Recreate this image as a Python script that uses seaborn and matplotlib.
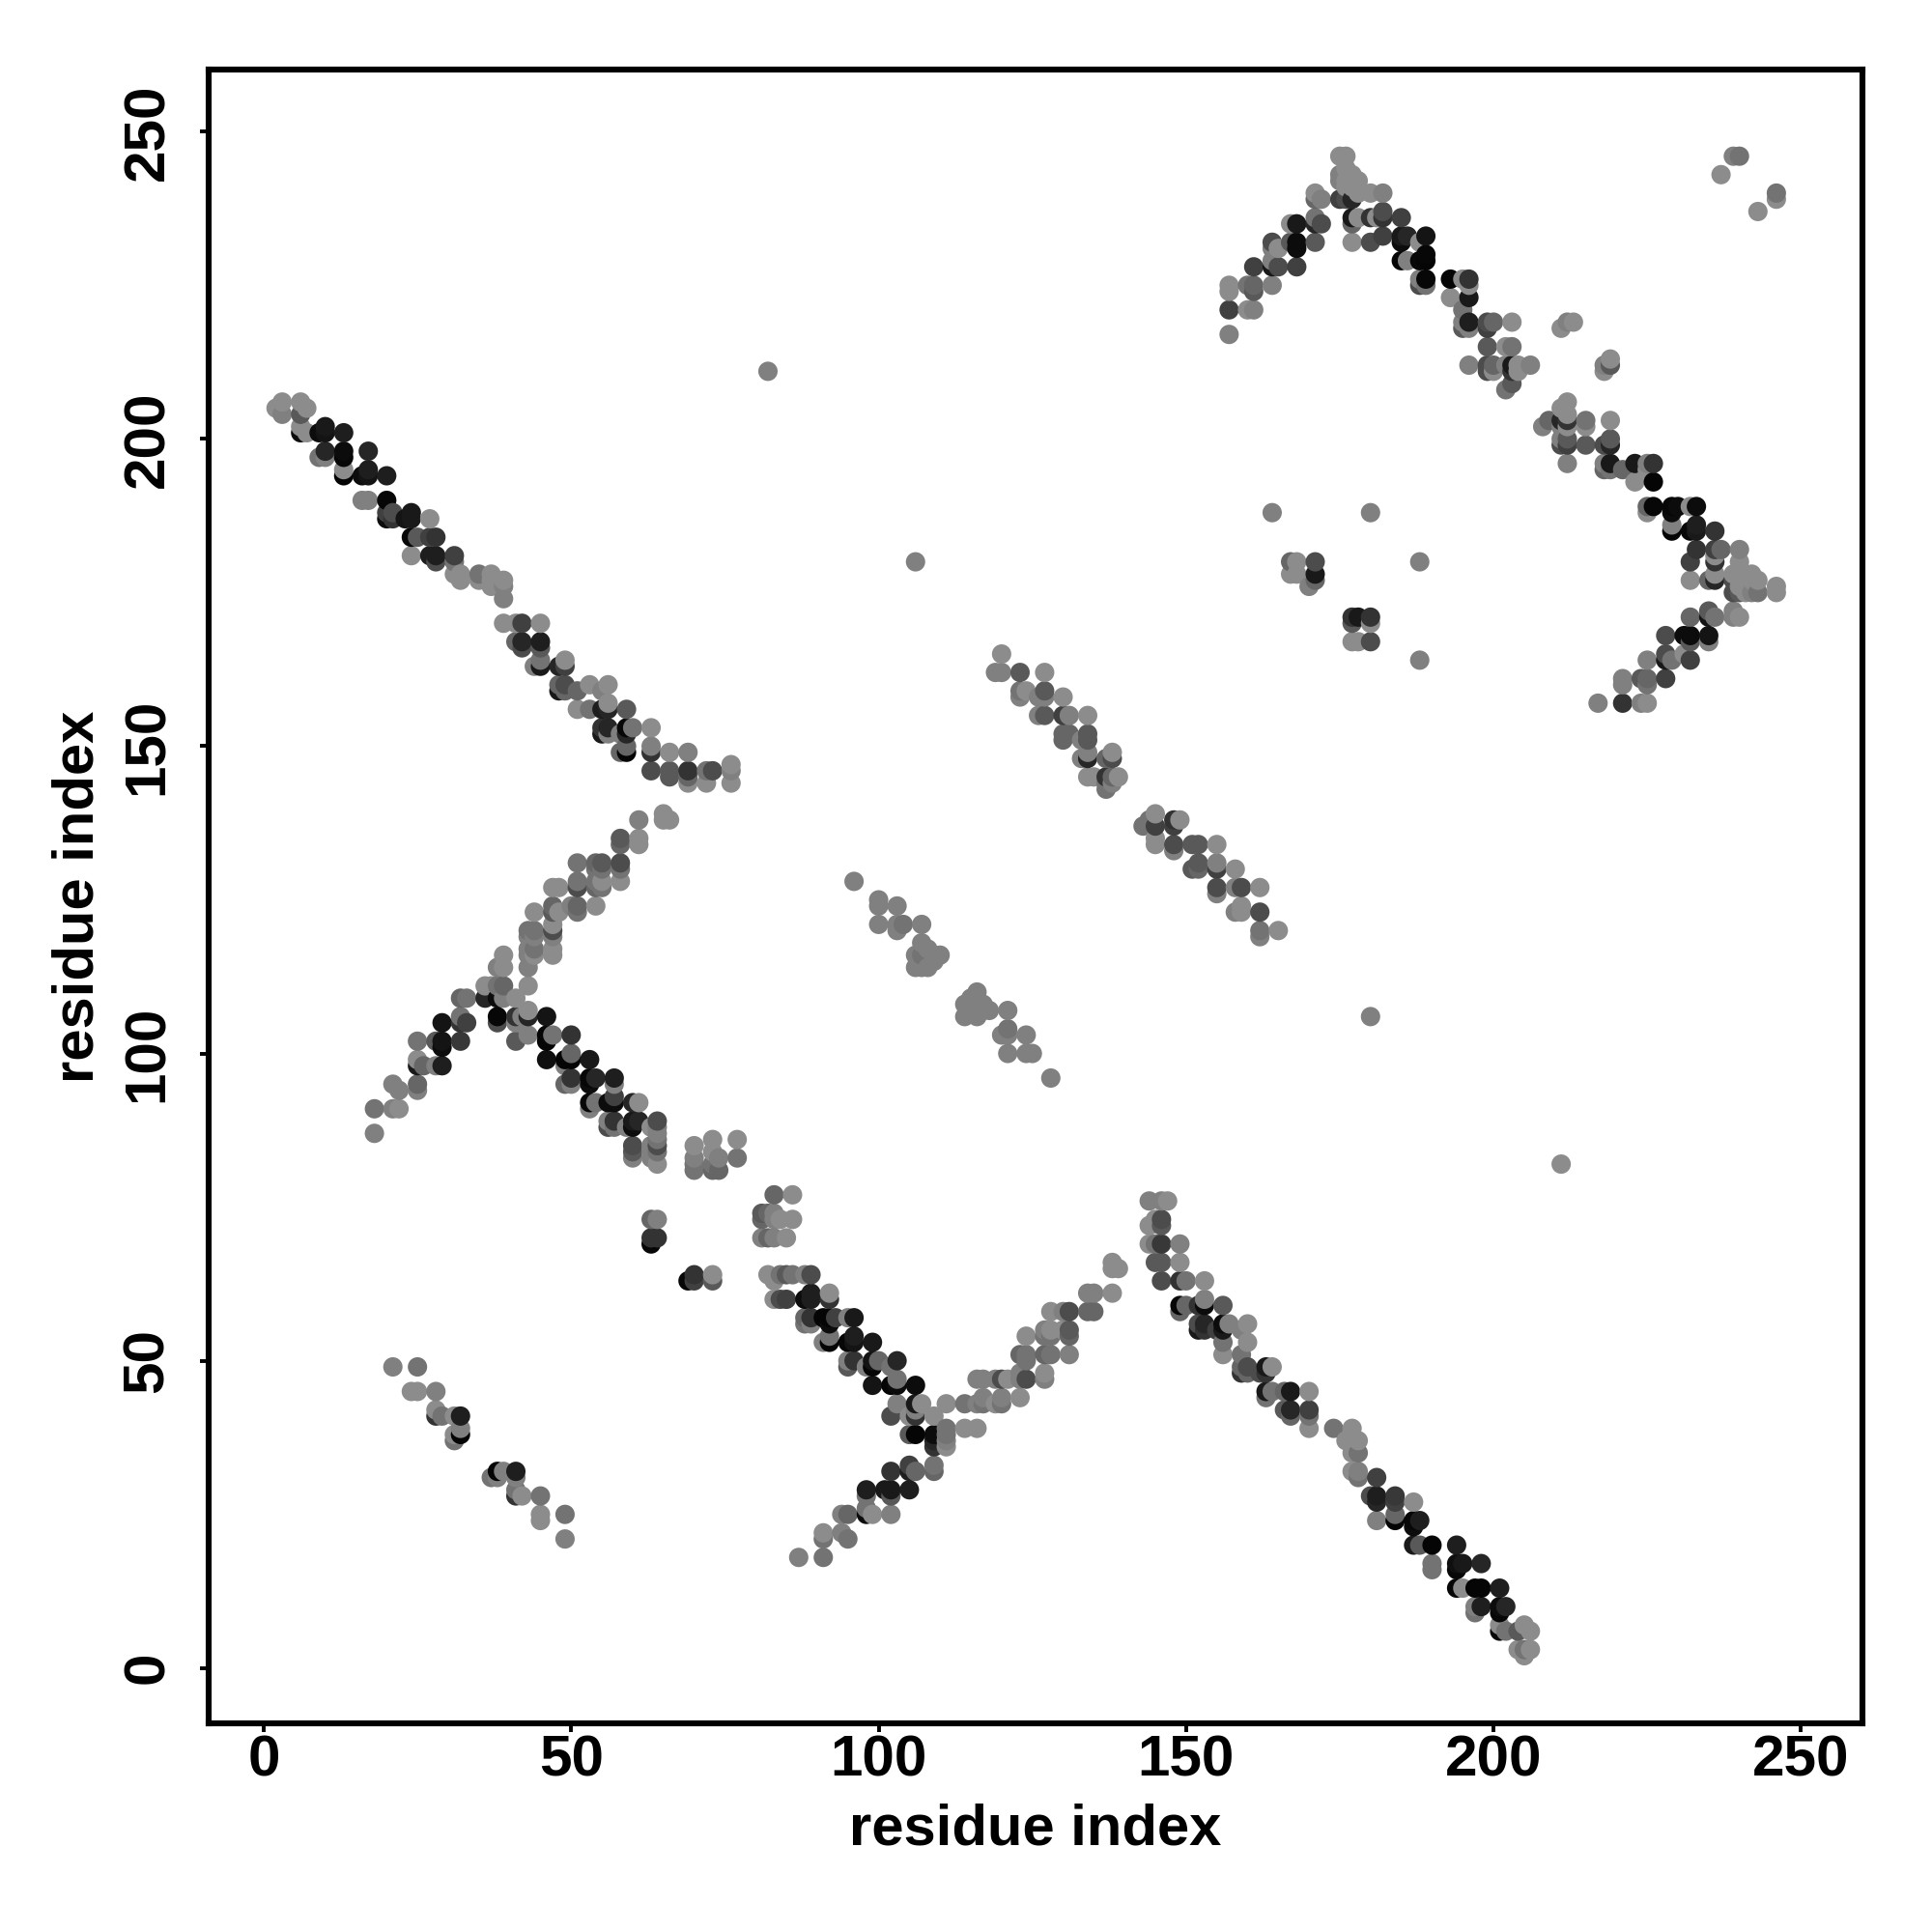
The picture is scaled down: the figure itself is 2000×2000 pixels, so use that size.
#Residue contact map, one dot per contact, darker = stronger
import pandas as pd
import seaborn as sns
import matplotlib
matplotlib.use("Agg")
import matplotlib.pyplot as plt

# (residue i, residue j, shade), shade 0 is black
top_left_arm = [(2,205,.55),(3,206,.55),(3,204,.5),(6,206,.55),(7,205,.55),(6,204,.35),(6,201,.05),(6,202,.55),(7,201,.55),
    (9,201,.05),(10,202,.1),(10,201,.08),(13,201,.12),(9,197,.45),(10,197,.5),(10,198,.15),(13,198,.05),(13,197,.03),(13,195,.55),(13,194,.02),
    (17,198,.15),(16,194,.05),(17,194,.08),(17,195,.12),(20,194,.12),(16,190,.5),(17,190,.5),(20,190,.03),(20,188,.25),(20,187,.05),(21,188,.3),(21,187,.2),
    (23,187,.08),(24,188,.1),(24,187,.1),(27,187,.55),(24,184,.03),(25,184,.35),(27,184,.25),(28,184,.2),(24,181,.55),(27,181,.12),(28,181,.12),(28,180,.3),
    (31,181,.25),(31,180,.45),(31,178,.55),(32,178,.55),(32,177,.55),(35,178,.45),(35,177,.55),(37,178,.55),(37,176,.55),(37,177,.55),(39,177,.55),(39,176,.5),(39,174,.5),
    (39,170,.55),(41,170,.55),(42,170,.25),(45,170,.55),(41,167,.4),(42,167,.15),(42,166,.3),(45,167,.12),(45,166,.35),(44,163,.5),(45,164,.45),(45,163,.1),
    (48,163,.15),(49,164,.55),(49,163,.25),(48,160,.4),(49,160,.3),(48,159,.1),(49,159,.4),(51,159,.4),(53,160,.55),(55,159,.5),(56,160,.55),
    (51,156,.55),(53,156,.45),(55,156,.12),(56,157,.55),(56,156,.15),(59,156,.35),(55,153,.2),(56,153,.15),(55,152,.1),(56,152,.5),(58,152,.5),(59,153,.03),(60,153,.45),(59,152,.15),(63,153,.55),
    (58,149,.4),(59,150,.4),(59,149,.02),(63,150,.5),(63,149,.2),(66,149,.55),(69,149,.5),(63,146,.3),(66,146,.35),(66,145,.35),(69,146,.2),(69,145,.4),(69,144,.55),
    (72,146,.45),(72,144,.55),(73,146,.3),(76,147,.55),(76,146,.5),(76,144,.55)]

upper_x_arm = [(65,139,.55),(65,138,.55),(66,138,.55),(61,138,.5),(58,135,.35),(58,134,.4),(61,135,.55),(61,134,.55),(51,131,.45),(54,131,.4),(55,131,.35),(54,130,.45),(55,130,.45),
    (58,131,.3),(58,130,.45),(58,128,.55),(47,127,.55),(48,127,.55),(51,128,.45),(51,127,.3),(54,128,.45),(55,128,.55),(54,127,.4),(55,127,.45),(47,124,.4),(47,123,.35),(48,123,.55),(50,124,.5),(51,124,.4),(51,123,.45),(54,124,.55),
    (44,123,.55),(43,120,.45),(44,120,.45),(43,119,.5),(44,119,.5),(47,121,.55),(47,120,.3),(47,119,.5),(47,117,.55),(47,116,.55),(43,117,.5),(44,117,.45),(43,116,.5),(44,116,.55),(43,114,.5),
    (39,116,.55),(38,114,.5),(39,114,.55),(43,111,.55),(32,109,.4),(33,109,.45),(36,111,.55),(36,109,.15),(37,111,.55),(38,111,.45),(39,111,.4),(38,109,.05),(39,109,.5),(41,109,.55),
    (38,106,.03),(38,105,.3),(41,106,.2),(41,105,.5),(42,106,.5),(43,106,.15),(43,107,.55),(46,106,.08),(29,105,.08),(32,106,.45),(32,105,.2),(33,105,.25),
    (25,102,.45),(28,102,.35),(29,102,.08),(29,101,.05),(32,102,.22),(25,99,.55),(25,98,.1),(26,98,.4),(28,98,.5),(29,98,.12),(21,95,.5),(22,94,.5),(25,95,.4),(25,94,.5),
    (18,91,.45),(21,91,.5),(22,91,.55),(18,87,.5)]

middle_arm = [(41,102,.35),(43,103,.5),(46,103,.02),(46,102,.02),(47,103,.45),(50,103,.2),(50,100,.4),(46,99,.06),(49,99,.02),(49,98,.5),(50,99,.02),(53,99,.1),
    (49,95,.4),(50,96,.2),(50,95,.5),(53,96,.03),(54,96,.15),(53,95,.05),(57,96,.12),(57,95,.5),(53,92,.03),(54,92,.45),(53,91,.5),(56,92,.05),(57,93,.25),(57,92,.05),(60,92,.15),(61,92,.55),
    (56,88,.3),(57,89,.2),(57,88,.45),(56,89,.5),(60,89,.1),(61,89,.15),(60,88,.05),(59,88,.5),(64,89,.3),(64,88,.5),(63,88,.55),(60,85,.3),(60,84,.35),(60,83,.5),
    (64,87,.5),(64,86,.45),(64,85,.3),(64,84,.45),(63,85,.5),(63,84,.5),(64,82,.55),(63,83,.5),(70,85,.55),(70,83,.5),(70,82,.45),(70,81,.45),(73,86,.55),(73,84,.55),(73,82,.45),(73,81,.4),(74,83,.5),(74,81,.4),(77,86,.55),(77,83,.45),
    (63,73,.4),(64,73,.5),(63,70,.2),(64,70,.2),(63,69,.03),(83,77,.4),(86,77,.55),(81,74,.35),(81,73,.4),(82,74,.4),(83,73,.5),(83,74,.5),(84,73,.55),(86,73,.55),(81,70,.5),(82,70,.4),(83,70,.5),(85,70,.55),
    (69,63,.03),(70,64,.2),(70,63,.25),(73,64,.55),(73,63,.35),(82,64,.55),(83,63,.55),(84,64,.45),(85,64,.35),(86,64,.45),(88,64,.5),(89,64,.3),(83,60,.55),(84,60,.3),(85,60,.25),(88,60,.05),(89,61,.12),(89,60,.12),(92,61,.55),(92,60,.2),
    (88,57,.4),(88,56,.45),(89,57,.2),(89,56,.5),(91,57,.02),(92,57,.02),(92,56,.05),(93,57,.25),(95,57,.5),(96,57,.1),(91,53,.5),(92,54,.45),(92,53,.02),(95,53,.03),(96,54,.12),(96,53,.08),(99,53,.1),
    (95,50,.5),(95,49,.35),(96,50,.2),(98,49,.5),(99,50,.08),(99,49,.02),(100,50,.4),(102,49,.45),(103,50,.15),(103,47,.45),(99,46,.08),(102,46,.02),(103,46,.05),(106,46,.05),
    (103,43,.5),(106,43,.1),(107,43,.55),(102,41,.3),(105,41,.55),(106,42,.5),(106,41,.2),(109,41,.55),(111,43,.55),(105,38,.35),(106,38,.02),
    (109,38,.05),(109,36,.2),(111,39,.45),(111,38,.45),(111,37,.5),(111,36,.55),(109,37,.15),(114,39,.55),(116,39,.55)]

lower_x_arm = [(109,33,.45),(109,32,.4),(105,33,.25),(105,32,.12),(106,32,.4),(102,32,.2),(98,29,.12),(98,28,.45),(101,29,.1),(102,29,.1),(102,28,.35),(105,29,.12),
    (94,25,.5),(95,25,.4),(98,25,.05),(99,25,.55),(102,25,.5),(98,26,.45),(91,22,.55),(91,21,.45),(94,22,.5),(95,21,.45),(87,18,.5),(91,18,.45),
    (114,43,.45),(116,43,.5),(116,47,.5),(117,47,.5),(117,43,.45),(119,47,.5),(120,47,.3),(121,47,.55),(120,43,.45),(120,44,.5),(119,43,.55),(117,44,.5),(123,44,.55),(123,47,.5),(124,47,.3),(123,48,.5),
    (124,51,.45),(123,51,.4),(124,50,.45),(127,51,.4),(128,51,.45),(127,48,.55),(127,47,.5),(131,51,.5),(124,54,.55),(127,55,.5),(127,54,.45),(128,55,.55),(128,54,.45),(130,55,.55),(131,55,.35),(131,54,.4),
    (128,58,.55),(130,58,.5),(131,58,.3),(134,61,.5),(135,61,.5),(138,61,.55),(134,58,.4),(135,58,.4),(138,66,.55),(138,65,.55),(139,65,.55)]

bottom_right_arm = [(144,76,.5),(146,76,.5),(147,76,.55),(144,72,.55),(145,73,.55),(146,73,.3),(146,72,.35),(144,69,.55),(145,69,.45),(146,69,.22),(149,69,.5),(145,66,.35),(146,66,.35),(149,66,.55),
    (146,63,.3),(149,63,.2),(150,63,.45),(153,63,.55),(149,59,.03),(150,59,.4),(149,58,.4),(152,59,.2),(153,59,.05),(153,60,.5),(156,59,.35),(152,56,.3),(153,56,.15),(152,55,.1),(153,55,.2),(155,55,.25),(156,56,.05),(156,55,.1),(157,56,.5),(156,53,.45),(156,51,.55),
    (159,55,.5),(160,56,.55),(160,53,.55),(159,51,.45),(159,49,.4),(159,48,.2),(160,49,.3),(160,48,.4),(163,49,.1),(164,49,.55),(163,48,.2),(162,48,.3),(163,45,.1),(163,44,.45),(164,45,.45),(166,45,.4),(167,45,.1),(170,45,.55),
    (166,42,.35),(167,42,.15),(167,41,.4),(170,42,.25),(170,41,.45),(170,39,.55),(174,39,.45),(177,39,.55),(176,37,.55),(178,37,.55),(177,35,.55),(178,35,.45),(177,32,.55),(178,32,.5),(178,31,.45),(181,31,.25),
    (180,28,.3),(181,28,.12),(181,27,.15),(184,28,.22),(184,27,.25),(187,27,.55),(181,24,.5),(184,25,.4),(184,24,.02),(187,24,.03),(188,24,.12),(187,23,.05),(187,20,.1),(188,20,.35),(190,20,.02),(190,17,.45),(190,16,.45),
    (194,20,.12),(194,17,.06),(195,17,.1),(194,16,.03),(198,17,.15),(194,13,.03),(195,13,.55),(197,13,.02),(198,13,.02),(201,13,.12),(197,10,.5),(197,9,.45),(198,10,.12),(201,10,.05),(201,9,.03),(202,10,.15),
    (201,7,.55),(201,6,.03),(202,6,.45),(204,6,.35),(205,7,.55),(206,6,.55),(204,3,.55),(205,3,.45),(205,2,.55),(206,3,.55)]

top_right_peak = [(157,225,.55),(157,224,.55),(157,221,.25),(157,217,.5),(160,225,.45),(161,225,.4),(161,224,.35),(160,221,.55),(161,221,.5),(164,225,.5),(161,228,.25),(164,228,.1),(164,229,.5),(165,228,.3),(168,228,.25),
    (164,232,.3),(164,231,.5),(165,231,.55),(167,232,.35),(168,232,.05),(168,231,.05),(171,232,.35),(167,235,.55),(168,235,.1),(171,236,.45),(171,235,.15),(172,235,.3),(171,240,.55),(171,239,.4),(172,239,.5),
    (175,246,.55),(176,246,.55),(175,243,.5),(175,242,.5),(175,239,.25),(176,244,.55),(176,239,.3),(177,239,.15),(176,242,.55),(177,243,.55),(178,242,.55),(178,240,.55),(180,240,.55),(182,240,.5),(176,241,.55),(177,241,.55),
    (177,236,.1),(177,235,.4),(178,236,.55),(177,232,.55),(180,236,.2),(181,236,.55),(182,237,.3),(182,236,.2),(185,236,.25),(180,232,.3),(182,233,.25),(185,233,.1),(185,232,.05),(186,233,.15),(185,229,.02),(186,229,.5),
    (188,232,.55),(189,233,.08),(189,230,.03),(188,229,.03),(189,229,.02),(188,226,.5),(189,226,.03),(188,225,.3),(189,225,.45),(193,226,.02),(195,226,.55),(196,226,.2),(196,225,.55),(193,223,.55),(196,223,.1),(195,221,.45),
    (195,219,.5),(196,219,.12),(195,218,.35),(196,218,.5),(199,219,.3),(199,218,.25),(200,219,.4),(203,219,.55),(199,215,.35),(202,215,.55),(203,215,.45),(196,212,.5),(199,212,.3),(199,211,.3),(200,212,.4),(200,211,.55),
    (202,212,.5),(203,212,.1),(203,211,.2),(204,212,.55),(204,211,.55),(206,212,.5),(203,209,.35),(202,208,.45),(211,218,.55),(212,219,.5),(213,219,.55),(218,211,.55),(218,212,.5),(219,212,.35),(219,213,.55)]

right_chevron = [(212,206,.55),(211,205,.55),(212,204,.55),(208,202,.5),(209,203,.4),(211,203,.15),(212,203,.2),(211,202,.5),(212,202,.55),(215,203,.45),(215,202,.55),(219,203,.55),
    (211,199,.3),(212,200,.35),(212,199,.25),(211,200,.5),(215,199,.35),(218,199,.3),(219,200,.35),(219,199,.15),(212,196,.5),(218,196,.5),(218,195,.4),(219,196,.1),(219,195,.45),(221,195,.4),(223,196,.1),(223,193,.55),(225,196,.5),(226,196,.2),(225,195,.55),(226,193,.02),
    (225,189,.4),(226,189,.03),(225,188,.55),(229,189,.03),(230,189,.05),(229,188,.05),(232,189,.55),(233,189,.05),(229,186,.5),(229,185,.02),(232,185,.03),(233,186,.12),(233,185,.1),(236,185,.2),
    (233,182,.2),(236,182,.25),(237,182,.4),(240,182,.5),(232,180,.25),(236,181,.55),(236,180,.2),(240,180,.55),(232,177,.55),(235,177,.4),(236,178,.55),(236,177,.15),
    (239,178,.55),(239,177,.3),(239,175,.3),(240,175,.35),(240,176,.55),(240,178,.55),(242,178,.55),(242,177,.55),(243,177,.55),(243,175,.45),(242,175,.5),(246,176,.55),(246,175,.55),(241,175,.55),
    (232,171,.4),(235,172,.35),(235,171,.08),(236,171,.45),(239,172,.5),(239,171,.5),(240,171,.55),(228,168,.3),(231,168,.05),(232,168,.05),(232,167,.35),(235,168,.08),(235,167,.5),
    (225,164,.5),(228,165,.3),(228,164,.1),(229,164,.45),(231,165,.55),(232,164,.25),(221,161,.5),(221,160,.5),(224,161,.35),(225,161,.4),(225,160,.45),(228,161,.25),(217,157,.5),(221,157,.2),(224,157,.5),(225,157,.55)]

center_strand = [(120,165,.55),(119,162,.5),(120,162,.5),(123,162,.35),(127,162,.55),(123,159,.45),(123,158,.5),(124,159,.55),(126,158,.5),(127,159,.35),(127,158,.5),(130,158,.55),
    (126,155,.5),(127,155,.35),(130,155,.25),(131,155,.5),(134,155,.55),(130,152,.4),(131,152,.4),(130,151,.4),(134,152,.35),(134,151,.35),(133,151,.5),(133,148,.5),(134,148,.15),(134,149,.5),(137,148,.4),(138,149,.55),(138,148,.3),
    (134,145,.55),(135,145,.55),(137,145,.2),(138,145,.4),(139,145,.55),(137,144,.45),(137,143,.45),(138,144,.5),(143,137,.45),(144,138,.45),(145,139,.55),(145,137,.25),(145,134,.55),(145,135,.55),
    (148,138,.2),(148,137,.25),(149,138,.55),(148,134,.3),(148,133,.5),(151,134,.35),(152,134,.35),(155,134,.55),(151,130,.35),(152,131,.35),(152,130,.4),(155,131,.5),(155,130,.25),(158,130,.55),
    (155,127,.3),(155,126,.5),(158,127,.5),(159,127,.3),(162,127,.55),(158,123,.5),(159,124,.55),(159,123,.55),(162,123,.3),(162,120,.45),(162,119,.5),(165,120,.55)]

lower_strand = [(96,128,.5),(100,125,.5),(100,124,.5),(103,124,.5),(100,121,.5),(103,121,.5),(103,120,.5),(104,121,.45),(107,121,.5),(107,118,.5),(106,116,.5),(107,116,.45),(108,117,.5),(109,116,.5),(110,116,.5),
    (106,114,.5),(107,114,.5),(108,114,.5),(107,115,.5),(109,115,.5),(116,110,.5),(115,109,.5),(114,108,.5),(114,106,.5),(115,108,.5),(116,106,.5),(117,108,.5),(118,107,.5),(121,107,.5),
    (120,103,.5),(121,104,.45),(121,103,.5),(124,103,.5),(121,100,.5),(124,100,.5),(125,100,.5),(128,96,.5)]

bottom_left_strand = [(21,49,.5),(25,49,.45),(24,45,.55),(25,45,.55),(28,45,.5),(28,42,.55),(28,41,.2),(29,41,.45),(31,41,.55),(32,41,.12),(32,39,.5),(32,38,.02),(31,37,.45),(31,38,.55),
    (37,31,.45),(38,32,.02),(38,31,.5),(39,32,.5),(41,32,.12),(41,31,.5),(41,29,.45),(41,28,.2),(42,28,.55),(45,28,.45),(45,25,.55),(45,24,.55),(49,25,.45),(49,21,.5)]

scattered = [(82,211,.5),(106,180,.5),(180,106,.5),(211,82,.55),(164,188,.5),(180,188,.5),(188,180,.5),(188,164,.5),
    (167,180,.4),(168,180,.55),(171,180,.3),(167,178,.55),(168,178,.55),(171,178,.1),(171,177,.4),(170,176,.5),
    (177,171,.2),(178,171,.1),(180,171,.2),(177,170,.35),(180,170,.55),(177,167,.55),(178,167,.55),(180,167,.3),
    (237,243,.55),(239,246,.5),(240,246,.45),(243,237,.55),(246,240,.45),(246,239,.55)]

contacts = pd.DataFrame(top_left_arm + upper_x_arm + middle_arm + lower_x_arm + bottom_right_arm + top_right_peak
                        + right_chevron + center_strand + lower_strand + bottom_left_strand + scattered,
                        columns=["i", "j", "shade"])
# later residues get painted over earlier ones
contacts = contacts.sort_values(["i", "j"])

sns.set_style("ticks")
plt.rcParams['font.family'] = ['Liberation Sans', 'DejaVu Sans']
plt.rcParams['font.weight'] = 'bold'

fig = plt.figure(figsize=(10, 10), dpi=200)
ax = fig.add_axes([216/2000, 1-1784/2000, 1712/2000, 1712/2000])

sns.scatterplot(data=contacts, x="i", y="j", hue="shade", palette="gray", hue_norm=(0, 1),
                s=52, linewidth=0, legend=False, ax=ax)

ax.set_xlim(-8.96, 260)
ax.set_ylim(-9, 260.1)
ax.set_xticks([0, 50, 100, 150, 200, 250])
ax.set_yticks([0, 50, 100, 150, 200, 250])
ax.tick_params(axis='both', length=3.1, width=1.4, color='black', labelsize=21.7, labelcolor='black')
ax.tick_params(axis='x', pad=1)
ax.tick_params(axis='y', pad=9.5)
plt.setp(ax.get_yticklabels(), rotation=90, va='center')

ax.set_xlabel("residue index", fontsize=21.5, fontweight='bold', color='black')
ax.set_ylabel("residue index", fontsize=21.5, fontweight='bold', color='black')
ax.xaxis.set_label_coords(0.5, -0.048, transform=ax.transAxes)
ax.yaxis.set_label_coords(-0.0625, 0.5, transform=ax.transAxes)

for side in ax.spines.values():
    side.set_linewidth(2.2)
    side.set_color('black')

plt.savefig("out.png", dpi=200)
